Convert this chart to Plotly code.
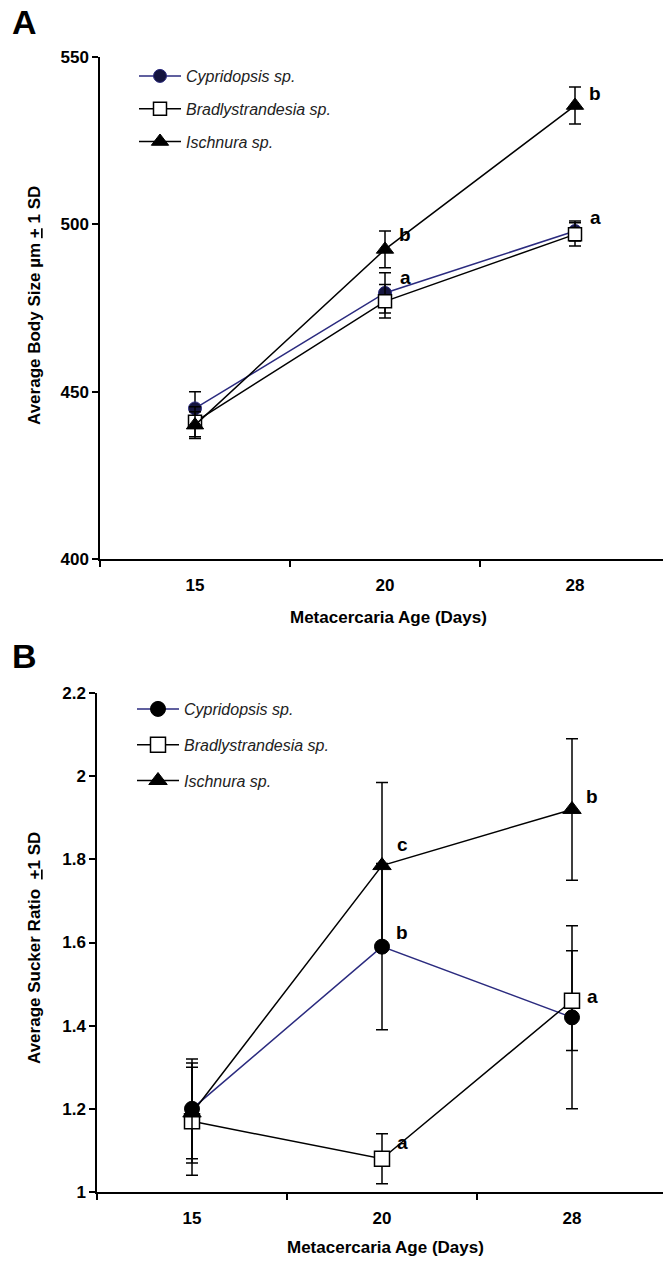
import plotly.graph_objects as go

# ---------------- data ----------------
ages = ["15", "20", "28"]
species = ["Cypridopsis sp.", "Bradlystrandesia sp.", "Ischnura sp."]

# Panel A: average body size (µm) and SD
body_cyp = [445, 479.5, 498]
body_cyp_sd = [5, 6, 3]
body_bra = [441, 477, 497]
body_bra_sd = [4.5, 5, 3.5]
body_isc = [440, 492.5, 535.5]
body_isc_sd = [4, 5.5, 5.5]

# Panel B: average sucker ratio and SD
ratio_cyp = [1.20, 1.59, 1.42]
ratio_cyp_sd = [0.12, 0.20, 0.22]
ratio_bra = [1.17, 1.08, 1.46]
ratio_bra_sd = [0.13, 0.06, 0.12]
ratio_isc = [1.19, 1.785, 1.92]
ratio_isc_sd = [0.12, 0.20, 0.17]

# significance letters: (age, value, letter)
letters_a = [("20", 497, "b"), ("20", 484, "a"), ("28", 539, "b"), ("28", 502, "a")]
letters_b = [("20", 1.835, "c"), ("20", 1.625, "b"), ("20", 1.118, "a"),
             ("28", 1.95, "b"), ("28", 1.47, "a")]

# ---------------- style ----------------
W, H = 663, 1261
NAVY = "#2B2B7F"
FONT = "Liberation Sans"

def px_y(y):
    return 1 - y / H

fig = go.Figure()

def add_series(x, y, sd, name, xa, ya, leg, marker, line_color):
    fig.add_trace(go.Scatter(
        x=x, y=y, name=name, mode="lines+markers",
        xaxis=xa, yaxis=ya, legend=leg, legendgroup=name + leg,
        line=dict(color=line_color, width=1.5),
        marker=marker,
        error_y=dict(type="data", array=sd, color="black", thickness=1.5, width=6),
        showlegend=True,
    ))

# Panel A
add_series(ages, body_cyp, body_cyp_sd, species[0], "x", "y", "legend",
           dict(symbol="circle", size=13, color="#15153F", line=dict(color=NAVY, width=1)), NAVY)
add_series(ages, body_bra, body_bra_sd, species[1], "x", "y", "legend",
           dict(symbol="square", size=13, color="white", line=dict(color="black", width=1.5)), "black")
add_series(ages, body_isc, body_isc_sd, species[2], "x", "y", "legend",
           dict(symbol="triangle-up", size=15, color="black", line=dict(color="black", width=1)), "black")

# Panel B
add_series(ages, ratio_cyp, ratio_cyp_sd, species[0], "x2", "y2", "legend2",
           dict(symbol="circle", size=15, color="black", line=dict(color="black", width=1)), NAVY)
add_series(ages, ratio_bra, ratio_bra_sd, species[1], "x2", "y2", "legend2",
           dict(symbol="square", size=15, color="white", line=dict(color="black", width=1.5)), "black")
add_series(ages, ratio_isc, ratio_isc_sd, species[2], "x2", "y2", "legend2",
           dict(symbol="triangle-up", size=16, color="black", line=dict(color="black", width=1)), "black")

tickfont = dict(family=FONT, size=17, color="black", weight="bold")

def xaxis_cfg(left_px):
    return dict(
        domain=[left_px / W, 1], type="category",
        range=[-0.5, -0.5 + (W - left_px) / 190.0],
        tickson="boundaries", ticks="outside", ticklen=6, tickwidth=1.5, tickcolor="black",
        showline=True, linecolor="black", linewidth=1.5, showgrid=False, zeroline=False,
        tickfont=tickfont, ticklabelstandoff=10, automargin=False, fixedrange=True,
    )

def yaxis_cfg(top_px, bot_px, rng, dtick, anchor):
    return dict(
        domain=[px_y(bot_px), px_y(top_px)], range=rng, dtick=dtick, anchor=anchor,
        ticks="outside", ticklen=6, tickwidth=1.5, tickcolor="black",
        showline=True, linecolor="black", linewidth=1.5, showgrid=False, zeroline=False,
        tickfont=tickfont, automargin=False,
    )

letter_font = dict(family=FONT, size=19, color="black", weight="bold")
ann = []
for age, v, t in letters_a:
    ann.append(dict(x=ages.index(age), y=v, xref="x", yref="y", text=t, showarrow=False,
                    xshift=20, yanchor="middle", font=letter_font))
for age, v, t in letters_b:
    ann.append(dict(x=ages.index(age), y=v, xref="x2", yref="y2", text=t, showarrow=False,
                    xshift=20, yanchor="middle", font=letter_font))

title_font = dict(family=FONT, size=17, color="black", weight="bold")
panel_font = dict(family=FONT, size=34, color="black", weight="bold")

def paper_text(x, y, text, font, angle=0):
    return dict(x=x / W, y=px_y(y), xref="paper", yref="paper", text=text, showarrow=False,
                xanchor="center", yanchor="middle", textangle=angle, font=font)

ann.append(paper_text(24, 22, "A", panel_font))
ann.append(paper_text(24, 656, "B", panel_font))
ann.append(paper_text(388, 617, "Metacercaria Age (Days)", title_font))
ann.append(paper_text(385, 1247, "Metacercaria Age (Days)", title_font))
ann.append(paper_text(34, 306, "Average Body Size µm <u>+</u> 1 SD", title_font, -90))
ann.append(paper_text(34, 948, "Average Sucker Ratio  <u>+</u>1 SD", title_font, -90))

legend_font = dict(family=FONT, size=16, color="#222222", style="italic")

fig.update_layout(
    template="none",
    width=W, height=H,
    margin=dict(l=0, r=0, t=0, b=0),
    paper_bgcolor="white", plot_bgcolor="white",
    xaxis=xaxis_cfg(100), yaxis=yaxis_cfg(57, 559, [400, 550], 50, "x"),
    xaxis2=dict(xaxis_cfg(97), anchor="y2"), yaxis2=yaxis_cfg(693, 1192, [1, 2.2], 0.2, "x2"),
    legend=dict(x=134 / W, y=px_y(59), xanchor="left", yanchor="top", bgcolor="rgba(0,0,0,0)",
                font=legend_font, tracegroupgap=9, traceorder="grouped", itemwidth=42),
    legend2=dict(x=132 / W, y=px_y(692), xanchor="left", yanchor="top", bgcolor="rgba(0,0,0,0)",
                 font=legend_font, tracegroupgap=12, traceorder="grouped", itemwidth=42),
    annotations=ann,
    showlegend=True,
)

fig.write_html("out.html")
